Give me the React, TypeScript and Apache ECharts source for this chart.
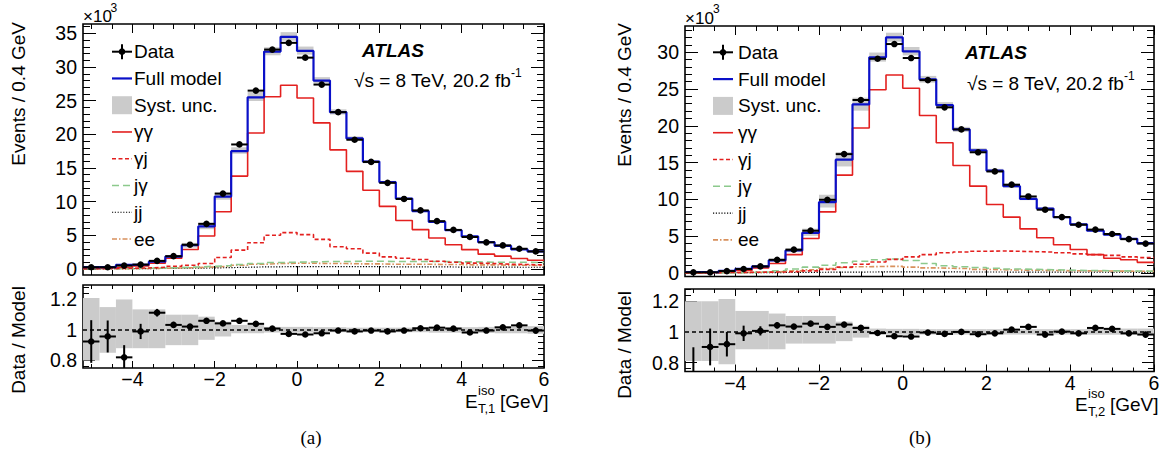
import React, { useEffect, useRef } from "react";
import * as echarts from "echarts";

// ---------------- data ----------------
const binEdges = [
  -5.2, -4.8, -4.4, -4.0, -3.6, -3.2, -2.8, -2.4, -2.0, -1.6, -1.2, -0.8, -0.4, 0.0,
  0.4, 0.8, 1.2, 1.6, 2.0, 2.4, 2.8, 3.2, 3.6, 4.0, 4.4, 4.8, 5.2, 5.6, 6.0,
];

// Panel (a): E_T,1 iso, values in units of 10^3 events
const dataA = [0.25, 0.25, 0.5, 0.65, 1.2, 1.9, 3.6, 6.7, 11.2, 18.5, 26.5, 32.6, 33.6, 31.4, 27.4, 23.3, 19.2, 15.9, 12.8, 10.4, 8.7, 7.1, 5.8, 4.75, 3.96, 3.5, 3.0, 2.6];
const modelA = [0.27, 0.26, 0.6, 0.66, 1.08, 1.84, 3.52, 6.32, 10.75, 17.5, 25.5, 32.3, 34.5, 32.4, 28.0, 23.3, 19.4, 15.95, 12.9, 10.45, 8.6, 7.0, 5.75, 4.83, 3.98, 3.44, 2.91, 2.61];
const ggA = [0.2, 0.22, 0.3, 0.45, 0.85, 1.6, 2.9, 4.9, 8.5, 13.8, 20.2, 25.6, 27.3, 25.4, 21.7, 17.7, 14.5, 11.7, 9.3, 7.2, 5.85, 4.6, 3.6, 2.87, 2.2, 1.9, 1.55, 1.3];
const gjA = [0.05, 0.07, 0.1, 0.15, 0.25, 0.4, 0.55, 0.8, 1.7, 2.8, 3.9, 5.0, 5.4, 5.1, 4.4, 3.3, 3.0, 2.35, 1.8, 1.6, 1.4, 1.15, 1.0, 0.87, 0.8, 0.7, 0.66, 0.6];
const jgA = [0.03, 0.05, 0.08, 0.1, 0.15, 0.2, 0.3, 0.4, 0.5, 0.65, 0.8, 0.95, 1.0, 1.05, 1.1, 1.1, 1.15, 1.15, 1.1, 1.1, 1.1, 1.1, 1.05, 1.05, 1.0, 1.0, 1.0, 0.95];
const eeA = [0.02, 0.03, 0.05, 0.07, 0.1, 0.15, 0.2, 0.3, 0.4, 0.55, 0.7, 0.8, 0.85, 0.85, 0.8, 0.8, 0.75, 0.75, 0.7, 0.7, 0.7, 0.65, 0.65, 0.6, 0.6, 0.55, 0.55, 0.5];
const jjA = [0.02, 0.03, 0.04, 0.05, 0.07, 0.1, 0.12, 0.15, 0.2, 0.25, 0.3, 0.32, 0.35, 0.35, 0.35, 0.35, 0.33, 0.33, 0.32, 0.3, 0.3, 0.3, 0.28, 0.28, 0.27, 0.26, 0.25, 0.25];
const ratioA = [0.924, 0.957, 0.82, 0.99, 1.113, 1.033, 1.022, 1.06, 1.043, 1.06, 1.04, 1.009, 0.974, 0.97, 0.978, 0.996, 0.99, 0.996, 0.99, 0.996, 1.011, 1.015, 1.009, 0.983, 0.996, 1.017, 1.03, 0.996];
const ratioErrA = [0.14, 0.105, 0.08, 0.05, 0.025, 0.02, 0.015, 0.012, 0.01, 0.008, 0.007, 0.006, 0.006, 0.006, 0.006, 0.007, 0.008, 0.008, 0.009, 0.01, 0.011, 0.012, 0.013, 0.015, 0.016, 0.017, 0.018, 0.02];
const bandUpA = [1.21, 1.15, 1.2, 1.135, 1.135, 1.1, 1.1, 1.087, 1.054, 1.033, 1.033, 1.02, 1.02, 1.02, 1.018, 1.018, 1.015, 1.015, 1.015, 1.015, 1.015, 1.018, 1.018, 1.018, 1.02, 1.022, 1.022, 1.025];
const bandDnA = [0.8, 0.85, 0.88, 0.88, 0.88, 0.9, 0.9, 0.935, 0.957, 0.978, 0.978, 0.983, 0.983, 0.983, 0.985, 0.985, 0.985, 0.985, 0.985, 0.985, 0.985, 0.982, 0.982, 0.982, 0.98, 0.978, 0.978, 0.975];

// Panel (b): E_T,2 iso
const dataB = [0.1, 0.1, 0.27, 0.55, 0.9, 1.8, 3.17, 5.75, 9.95, 16.15, 23.5, 29.1, 31.1, 29.2, 26.2, 22.5, 19.5, 16.4, 13.8, 12.0, 10.4, 8.6, 7.6, 6.56, 5.9, 5.3, 4.6, 4.0];
const modelB = [0.14, 0.11, 0.29, 0.555, 0.894, 1.73, 3.06, 5.46, 9.63, 15.4, 22.9, 29.3, 32.0, 30.1, 26.3, 22.8, 19.5, 16.65, 13.9, 11.8, 10.07, 8.75, 7.58, 6.62, 5.75, 5.2, 4.64, 4.07];
const ggB = [0.05, 0.1, 0.2, 0.35, 0.7, 1.3, 2.5, 4.7, 8.3, 13.3, 19.7, 24.9, 26.9, 25.1, 21.4, 17.7, 14.6, 11.8, 9.3, 7.6, 6.0, 4.8, 3.85, 3.2, 2.5, 2.0, 1.8, 1.45];
const gjB = [0.03, 0.05, 0.07, 0.1, 0.12, 0.15, 0.2, 0.3, 0.5, 0.8, 1.2, 1.5, 1.85, 2.2, 2.5, 2.75, 2.85, 2.95, 3.0, 2.95, 2.9, 2.85, 2.75, 2.6, 2.5, 2.4, 2.2, 2.1];
const jgB = [0.02, 0.03, 0.05, 0.08, 0.15, 0.3, 0.55, 0.8, 1.05, 1.4, 1.6, 1.8, 1.9, 1.7, 1.3, 1.0, 0.85, 0.75, 0.65, 0.55, 0.5, 0.45, 0.4, 0.35, 0.33, 0.3, 0.28, 0.25];
const eeB = [0.02, 0.03, 0.05, 0.08, 0.12, 0.2, 0.3, 0.45, 0.6, 0.75, 0.85, 0.9, 0.9, 0.8, 0.7, 0.65, 0.6, 0.5, 0.45, 0.4, 0.38, 0.35, 0.32, 0.3, 0.28, 0.26, 0.25, 0.22];
const jjB = [0.02, 0.03, 0.04, 0.05, 0.06, 0.07, 0.08, 0.1, 0.12, 0.13, 0.14, 0.15, 0.15, 0.15, 0.15, 0.15, 0.14, 0.14, 0.14, 0.13, 0.13, 0.12, 0.12, 0.12, 0.11, 0.11, 0.1, 0.1];
const ratioB = [0.7, 0.902, 0.92, 0.991, 1.007, 1.043, 1.035, 1.054, 1.033, 1.048, 1.026, 0.993, 0.972, 0.97, 0.996, 0.987, 1.0, 0.985, 0.991, 1.015, 1.033, 0.983, 1.002, 0.991, 1.026, 1.02, 0.991, 0.983];
const ratioErrB = [0.2, 0.12, 0.08, 0.05, 0.03, 0.02, 0.015, 0.012, 0.01, 0.008, 0.007, 0.006, 0.006, 0.006, 0.006, 0.007, 0.008, 0.008, 0.009, 0.01, 0.011, 0.012, 0.013, 0.014, 0.015, 0.016, 0.017, 0.018];
const bandUpB = [1.2, 1.2, 1.215, 1.137, 1.137, 1.12, 1.104, 1.104, 1.104, 1.067, 1.04, 1.022, 1.02, 1.02, 1.018, 1.018, 1.018, 1.018, 1.018, 1.018, 1.018, 1.018, 1.018, 1.018, 1.02, 1.02, 1.022, 1.022];
const bandDnB = [0.81, 0.81, 0.79, 0.887, 0.887, 0.887, 0.924, 0.924, 0.924, 0.94, 0.963, 0.98, 0.982, 0.982, 0.983, 0.983, 0.983, 0.983, 0.983, 0.983, 0.983, 0.983, 0.983, 0.983, 0.982, 0.982, 0.98, 0.98];

// tick positions
const xMajorTicks = [-4, -2, 0, 2, 4, 6];
const xMinorTicks = [-5, -4.5, -3.5, -3, -2.5, -1.5, -1, -0.5, 0.5, 1, 1.5, 2.5, 3, 3.5, 4.5, 5, 5.5];
const yMainMajorTicks = [0, 5, 10, 15, 20, 25, 30, 35];
const yMainMinorTicks = [1, 2, 3, 4, 6, 7, 8, 9, 11, 12, 13, 14, 16, 17, 18, 19, 21, 22, 23, 24, 26, 27, 28, 29, 31, 32, 33, 34, 36];
const yRatioMajorTicks = [0.8, 1.0, 1.2];
const yRatioMinorTicks = [0.76, 0.84, 0.88, 0.92, 0.96, 1.04, 1.08, 1.12, 1.16, 1.24, 1.28];

const legendLabels = ["Data", "Full model", "Syst. unc.", "γγ", "γj", "jγ", "jj", "ee"];

// ---------------- styling ----------------
const FONT = "'Liberation Sans', Arial, Helvetica, sans-serif";
const SERIF = "'Liberation Serif', 'Times New Roman', serif";
const C_BLUE = "#0a10c8";
const C_RED = "#e3201f";
const C_GREEN = "#8cc98c";
const C_ORANGE = "#d8905c";
const C_BAND = "#cbcbcb";

const lineStyles: Record<string, any> = {
  gg: { color: C_RED, width: 1.6, type: "solid" },
  gj: { color: C_RED, width: 1.6, type: [4, 2.5] },
  jg: { color: C_GREEN, width: 1.6, type: [7, 4] },
  jj: { color: "#000", width: 1.2, type: [1.2, 1.6] },
  ee: { color: C_ORANGE, width: 1.6, type: [5, 2, 1.5, 2] },
  model: { color: C_BLUE, width: 2.2, type: "solid" },
};

const minus = (v: number) => String(v).replace("-", "\u2212");

function axesFor(dim: "x" | "y", gridIndex: number, min: number, max: number, major: number[], minor: number[], majLen: number, minLen: number, labels: boolean, labelMargin: number) {
  const inR = (a: number[]) => a.filter((v) => v >= min - 1e-9 && v <= max + 1e-9);
  const mk = (pos: string, vals: number[], len: number, withLabel: boolean) => ({
    type: "value",
    gridIndex,
    min,
    max,
    position: pos,
    axisLine: { show: false, onZero: false },
    splitLine: { show: false },
    axisPointer: { show: false },
    axisTick: { show: true, inside: true, length: len, customValues: inR(vals), lineStyle: { color: "#000", width: 1 } },
    axisLabel: withLabel
      ? { show: true, customValues: inR(vals), margin: labelMargin, color: "#000", fontSize: 19.5, fontFamily: FONT, formatter: (v: number) => minus(v), showMinLabel: true, showMaxLabel: true, hideOverlap: false }
      : { show: false },
  });
  const p1 = dim === "x" ? "bottom" : "left";
  const p2 = dim === "x" ? "top" : "right";
  return [mk(p1, major, majLen, labels), mk(p1, minor, minLen, false), mk(p2, major, majLen, false), mk(p2, minor, minLen, false)];
}

function stepData(vals: number[]) {
  const pts = vals.map((v, i) => [binEdges[i], v]);
  pts.push([binEdges[binEdges.length - 1], vals[vals.length - 1]]);
  return pts;
}

function stepSeries(axisIdx: number, vals: number[], style: any, z: number) {
  return {
    type: "line",
    xAxisIndex: axisIdx,
    yAxisIndex: axisIdx,
    step: "end",
    symbol: "none",
    showSymbol: false,
    silent: true,
    clip: true,
    z,
    lineStyle: style,
    data: stepData(vals),
  };
}

function bandSeries(axisIdx: number, lo: number[], hi: number[], z: number) {
  return {
    type: "custom",
    xAxisIndex: axisIdx,
    yAxisIndex: axisIdx,
    silent: true,
    z,
    encode: { x: [0, 1], y: [2, 3] },
    data: lo.map((l, i) => [binEdges[i], binEdges[i + 1], l, hi[i]]),
    renderItem: (params: any, api: any) => {
      const cs = params.coordSys;
      const a = api.coord([api.value(0), api.value(3)]);
      const b = api.coord([api.value(1), api.value(2)]);
      const top = Math.max(cs.y, Math.min(a[1], b[1]));
      const bot = Math.min(cs.y + cs.height, Math.max(a[1], b[1]));
      return { type: "rect", shape: { x: a[0], y: top, width: b[0] - a[0], height: Math.max(0, bot - top) }, style: { fill: C_BAND } };
    },
  };
}

function pointSeries(axisIdx: number, vals: number[], errs: number[], z: number) {
  return {
    type: "custom",
    xAxisIndex: axisIdx,
    yAxisIndex: axisIdx,
    silent: true,
    z,
    encode: { x: [0, 1], y: 2 },
    data: vals.map((v, i) => [binEdges[i], binEdges[i + 1], v, errs[i]]),
    renderItem: (params: any, api: any) => {
      const cs = params.coordSys;
      const x0 = api.value(0), x1 = api.value(1), y = api.value(2), e = api.value(3);
      const xm = (x0 + x1) / 2;
      const pL = api.coord([x0, y]);
      const pR = api.coord([x1, y]);
      const pT = api.coord([xm, y + e]);
      const pB = api.coord([xm, y - e]);
      const top = cs.y, bot = cs.y + cs.height;
      const cl = (v: number) => Math.max(top, Math.min(bot, v));
      const children: any[] = [];
      const yT = cl(pT[1]), yB = cl(pB[1]);
      if (yB - yT > 0.5) {
        children.push({ type: "line", shape: { x1: pT[0], y1: yT, x2: pT[0], y2: yB }, style: { stroke: "#000", lineWidth: 2 } });
      }
      if (pL[1] >= top && pL[1] <= bot) {
        children.push({ type: "line", shape: { x1: pL[0], y1: pL[1], x2: pR[0], y2: pR[1] }, style: { stroke: "#000", lineWidth: 2 } });
        children.push({ type: "circle", shape: { cx: (pL[0] + pR[0]) / 2, cy: pL[1], r: 3.3 }, style: { fill: "#000" } });
      }
      return { type: "group", children };
    },
  };
}

function legendGraphic(x0: number, y0: number, dy: number, textX: number) {
  const els: any[] = [];
  const w = 20;
  legendLabels.forEach((lab, i) => {
    const y = y0 + dy * i;
    if (i === 0) {
      els.push({ type: "line", shape: { x1: x0, y1: y, x2: x0 + w, y2: y }, style: { stroke: "#000", lineWidth: 2 } });
      els.push({ type: "line", shape: { x1: x0 + w / 2, y1: y - 7.5, x2: x0 + w / 2, y2: y + 7.5 }, style: { stroke: "#000", lineWidth: 2 } });
      els.push({ type: "circle", shape: { cx: x0 + w / 2, cy: y, r: 3.3 }, style: { fill: "#000" } });
    } else if (i === 2) {
      els.push({ type: "rect", shape: { x: x0, y: y - 9, width: w, height: 18 }, style: { fill: C_BAND } });
    } else {
      const key = ["", "model", "", "gg", "gj", "jg", "jj", "ee"][i];
      const st = lineStyles[key];
      els.push({
        type: "line",
        shape: { x1: x0, y1: y, x2: x0 + w, y2: y },
        style: { stroke: st.color, lineWidth: st.width, lineDash: Array.isArray(st.type) ? st.type : null },
      });
    }
    els.push({ type: "text", x: textX, y, style: { text: lab, fontSize: 19, fontFamily: FONT, fill: "#000", align: "left", verticalAlign: "middle" } });
  });
  return els;
}

function txt(x: number, y: number, text: string, size: number, extra: any = {}) {
  return { type: "text", x, y, style: { text, fontSize: size, fontFamily: FONT, fill: "#000", align: "left", verticalAlign: "middle", ...extra } };
}

function vtxt(x: number, y: number, text: string, align: string) {
  return { type: "text", x, y, rotation: Math.PI / 2, style: { text, fontSize: 19, fontFamily: FONT, fill: "#000", align, verticalAlign: "middle" } };
}

type PanelDef = {
  main: { left: number; top: number; width: number; height: number; min: number; max: number };
  ratio: { left: number; top: number; width: number; height: number; min: number; max: number };
  data: number[]; model: number[]; gg: number[]; gj: number[]; jg: number[]; ee: number[]; jj: number[];
  ratioVals: number[]; ratioErr: number[]; bandUp: number[]; bandDn: number[];
};

const panels: PanelDef[] = [
  {
    main: { left: 83, top: 24, width: 461, height: 251, min: -0.9, max: 36.4 },
    ratio: { left: 83, top: 285, width: 461, height: 83, min: 0.75, max: 1.295 },
    data: dataA, model: modelA, gg: ggA, gj: gjA, jg: jgA, ee: eeA, jj: jjA,
    ratioVals: ratioA, ratioErr: ratioErrA, bandUp: bandUpA, bandDn: bandDnA,
  },
  {
    main: { left: 685, top: 26, width: 469, height: 250.5, min: -0.47, max: 33.55 },
    ratio: { left: 685, top: 289, width: 469, height: 82.5, min: 0.742, max: 1.28 },
    data: dataB, model: modelB, gg: ggB, gj: gjB, jg: jgB, ee: eeB, jj: jjB,
    ratioVals: ratioB, ratioErr: ratioErrB, bandUp: bandUpB, bandDn: bandDnB,
  },
];

function buildOption() {
  const grid: any[] = [];
  const xAxis: any[] = [];
  const yAxis: any[] = [];
  const series: any[] = [];
  panels.forEach((p, pi) => {
    const gM = pi * 2;
    const gR = pi * 2 + 1;
    [p.main, p.ratio].forEach((g) => {
      grid.push({ left: g.left, top: g.top, width: g.width, height: g.height, show: true, borderColor: "#000", borderWidth: 1.6, backgroundColor: "transparent", containLabel: false });
    });
    xAxis.push(...axesFor("x", gM, -5.2, 6, xMajorTicks, xMinorTicks, 9, 5, false, 1));
    yAxis.push(...axesFor("y", gM, p.main.min, p.main.max, yMainMajorTicks, yMainMinorTicks, 13, 7, true, 6));
    xAxis.push(...axesFor("x", gR, -5.2, 6, xMajorTicks, xMinorTicks, 7, 4, true, 1));
    yAxis.push(...axesFor("y", gR, p.ratio.min, p.ratio.max, yRatioMajorTicks, yRatioMinorTicks, 12, 6, true, 6));
    const aM = gM * 4;
    const aR = gR * 4;
    // main panel
    series.push(bandSeries(aM, p.model.map((m, i) => m * p.bandDn[i]), p.model.map((m, i) => m * p.bandUp[i]), 1));
    series.push(stepSeries(aM, p.jj, lineStyles.jj, 2));
    series.push(stepSeries(aM, p.ee, lineStyles.ee, 2));
    series.push(stepSeries(aM, p.jg, lineStyles.jg, 2));
    series.push(stepSeries(aM, p.gj, lineStyles.gj, 3));
    series.push(stepSeries(aM, p.gg, lineStyles.gg, 3));
    series.push(stepSeries(aM, p.model, lineStyles.model, 4));
    series.push(pointSeries(aM, p.data, p.ratioErr.map((e, i) => e * p.model[i]), 5));
    // ratio panel
    series.push(bandSeries(aR, p.bandDn, p.bandUp, 1));
    series.push({
      type: "line", xAxisIndex: aR, yAxisIndex: aR, symbol: "none", silent: true, z: 2,
      lineStyle: { color: "#000", width: 1.5, type: [4, 3] },
      data: [[binEdges[0], 1], [binEdges[binEdges.length - 1], 1]],
    });
    series.push(pointSeries(aR, p.ratioVals, p.ratioErr, 3));
  });

  const graphic: any[] = [
    // panel (a)
    ...legendGraphic(112, 51.7, 26.76, 134),
    txt(362, 50, "ATLAS", 19, { fontWeight: "bold", fontStyle: "italic" }),
    txt(354, 80, "\u221As = 8 TeV, 20.2 fb", 19),
    txt(511, 73, "-1", 12),
    txt(83, 16, "\u00D710", 17),
    txt(110.5, 8, "3", 12),
    vtxt(18, 22, "Events / 0.4 GeV", "right"),
    vtxt(18, 340, "Data / Model", "center"),
    txt(465, 401, "E", 19),
    txt(478, 390, "iso", 13),
    txt(478, 408, "T,1", 13),
    txt(500, 401, "[GeV]", 19),
    { type: "text", x: 311, y: 437, style: { text: "(a)", fontSize: 19, fontFamily: SERIF, fill: "#000", align: "center", verticalAlign: "middle" } },
    // panel (b)
    ...legendGraphic(713, 52.3, 26.8, 738),
    txt(965, 52, "ATLAS", 19, { fontWeight: "bold", fontStyle: "italic" }),
    txt(967, 83, "\u221As = 8 TeV, 20.2 fb", 19),
    txt(1124, 76, "-1", 12),
    txt(685, 18, "\u00D710", 17),
    txt(713, 9, "3", 12),
    vtxt(624, 23, "Events / 0.4 GeV", "right"),
    vtxt(624, 345, "Data / Model", "center"),
    txt(1075, 404, "E", 19),
    txt(1088, 393, "iso", 13),
    txt(1088, 411, "T,2", 13),
    txt(1110, 404, "[GeV]", 19),
    { type: "text", x: 920, y: 437, style: { text: "(b)", fontSize: 19, fontFamily: SERIF, fill: "#000", align: "center", verticalAlign: "middle" } },
  ];

  return {
    animation: false,
    backgroundColor: "#fff",
    textStyle: { fontFamily: FONT },
    grid,
    xAxis,
    yAxis,
    series,
    graphic,
  };
}

export default function App() {
  const ref = useRef<HTMLDivElement | null>(null);
  useEffect(() => {
    if (!ref.current) return;
    const chart = echarts.init(ref.current, null, { renderer: "svg", width: 1169, height: 453 });
    chart.setOption(buildOption() as any);
    return () => chart.dispose();
  }, []);
  return <div ref={ref} style={{ position: "absolute", left: 0, top: 0, width: 1169, height: 453, background: "#fff" }} />;
}
